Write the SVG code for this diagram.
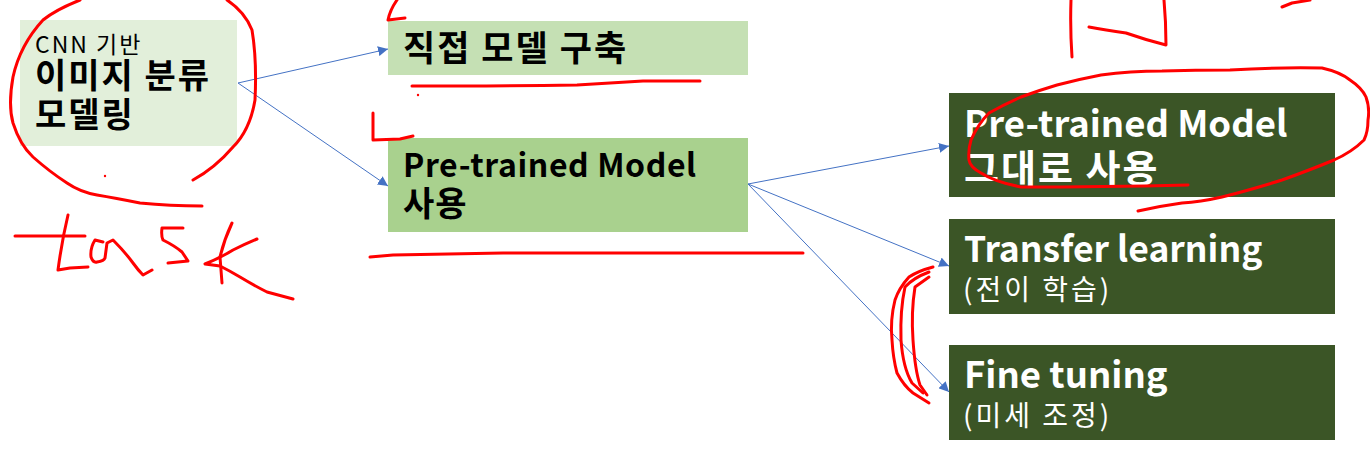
<svg xmlns="http://www.w3.org/2000/svg" width="1370" height="464" viewBox="0 0 1370 464">
<style>
text{font-family:"Noto Sans CJK KR","Noto Sans",sans-serif}
.b{font-weight:700;fill:#000}
.w{font-weight:600;fill:#fff}
.wr{font-weight:400}
.conn{stroke:#4472C4;stroke-width:1;fill:none}
.ink{stroke:#FF0000;stroke-width:3;fill:none;stroke-linecap:round;stroke-linejoin:round}
</style>
<defs>
<marker id="ah" viewBox="0 0 10 10" refX="10" refY="5" markerWidth="10" markerHeight="10" markerUnits="userSpaceOnUse" orient="auto">
<path d="M0,0 L10,5 L0,10 z" fill="#4472C4"/>
</marker>
</defs>
<rect width="1370" height="464" fill="#fff"/>
<g id="node-cnn">
<rect x="20" y="20" width="217" height="126" fill="#E2EFDA"/>
<text class="b"><tspan x="35" y="53" font-size="23" font-weight="400" letter-spacing="2">CNN 기반</tspan><tspan x="35" y="88" font-size="34" letter-spacing="2">이미지 분류</tspan><tspan x="35" y="127" font-size="34" letter-spacing="2">모델링</tspan></text>
</g>
<g id="node-direct">
<rect x="388" y="21" width="360" height="54" fill="#C5E0B4"/>
<text x="403" y="61" font-size="35" letter-spacing="2" class="b">직접 모델 구축</text>
</g>
<g id="node-pretrained">
<rect x="388" y="138" width="360" height="94" fill="#A9D18E"/>
<text class="b"><tspan x="403" y="177" font-size="32" letter-spacing="0.6">Pre-trained Model</tspan><tspan x="403" y="216" font-size="34" letter-spacing="1">사용</tspan></text>
</g>
<g id="node-asis">
<rect x="949" y="93" width="386" height="104" fill="#3B5526"/>
<text class="w"><tspan x="964" y="137" font-size="36.5">Pre-trained Model</tspan><tspan x="964" y="182" font-size="38" letter-spacing="2">그대로 사용</tspan></text>
</g>
<g id="node-transfer">
<rect x="949" y="219" width="386" height="95" fill="#3B5526"/>
<text class="w"><tspan x="964" y="262" font-size="35.5">Transfer learning</tspan><tspan x="963" y="300" font-size="28" letter-spacing="3" class="wr">(전이 학습)</tspan></text>
</g>
<g id="node-finetune">
<rect x="949" y="345" width="386" height="95" fill="#3B5526"/>
<text class="w"><tspan x="964" y="388" font-size="36.5">Fine tuning</tspan><tspan x="963" y="426" font-size="28" letter-spacing="3" class="wr">(미세 조정)</tspan></text>
</g>
<g id="connectors">
<path class="conn" d="M238,83 L388,49" marker-end="url(#ah)"/>
<path class="conn" d="M238,83 L388,186" marker-end="url(#ah)"/>
<path class="conn" d="M748,184 L949,146" marker-end="url(#ah)"/>
<path class="conn" d="M748,184 L949,266" marker-end="url(#ah)"/>
<path class="conn" d="M748,184 L949,392" marker-end="url(#ah)"/>
</g>
<g id="ink">
<path class="ink" d="M80,0 Q55,10 43,20 Q20,45 13,77 Q8,105 13,123 Q20,145 33,157 Q50,172 67,183 Q80,192 97,195 Q115,198 140,203 Q170,206 202,206"/>
<path class="ink" d="M227,0 Q245,12 252,30 Q257,60 255,100 Q250,130 233,147 Q215,168 193,180"/>
<circle cx="105" cy="176" r="1.2" fill="#FF0000"/>
<path class="ink" d="M15,236 L85,236"/>
<path class="ink" d="M68,215 Q62,240 58,270 L70,268 L88,267"/>
<path class="ink" d="M103,242 L95,240 Q90,248 91,257 Q93,263 97,262 Q104,261 105,258 L107,243 L113,240 Q125,252 133,263 Q138,270 143,275 L152,270"/>
<path class="ink" d="M183,228 L162,228 Q161,236 163,240 Q175,246 182,252 L188,261 L168,263"/>
<path class="ink" d="M232,223 Q224,240 220,257 L222,283"/>
<path class="ink" d="M257,239 Q245,244 233,250 Q220,258 205,264 L220,266 Q230,271 240,277 Q255,286 267,292 L293,299"/>
<path class="ink" d="M397,0 Q390,10 388,20 L405,18"/>
<path class="ink" d="M412,86 Q500,86 577,85 Q610,83 643,81 L700,81"/>
<circle cx="418" cy="95" r="1.2" fill="#FF0000"/>
<path class="ink" d="M373,113 L373,140 L400,139 L413,136"/>
<path class="ink" d="M370,257 L393,255 Q440,254 503,253 L803,253"/>
<path class="ink" d="M1071,0 Q1070,28 1072,57"/>
<path class="ink" d="M1089,27 Q1105,30 1126,33 Q1146,40 1166,45 Q1166,22 1164,0"/>
<path class="ink" d="M1282,7 L1292,3 L1310,0"/>
<path class="ink" d="M1188,185 Q1100,187 1021,187 Q995,182 981,173 Q970,167 969,160 Q968,150 971,140 Q978,124 989,113 Q1005,104 1021,97 Q1040,90 1057,85 Q1080,79 1101,75 Q1130,71 1162,71 Q1195,70 1230,70 Q1280,67 1322,68 Q1340,72 1350,80 Q1362,88 1366,97 Q1370,108 1368,120 Q1368,132 1364,140 Q1352,152 1334,160 Q1310,170 1282,180 Q1250,190 1222,197 Q1200,202 1182,203 Q1160,206 1138,211"/>
<path class="ink" d="M933,267 Q918,271 909,277 Q899,288 895,300 Q890,320 892,340 Q893,358 897,373 Q904,386 913,393 L929,403" stroke-width="2.5"/>
<path class="ink" d="M929,272 Q913,278 905,287 Q900,310 901,340 Q903,368 912,383 L923,393" stroke-width="2.5"/>
<path class="ink" d="M929,277 L915,287 Q911,312 913,340 Q915,370 920,385 L927,395" stroke-width="2.5"/>
</g>
</svg>
